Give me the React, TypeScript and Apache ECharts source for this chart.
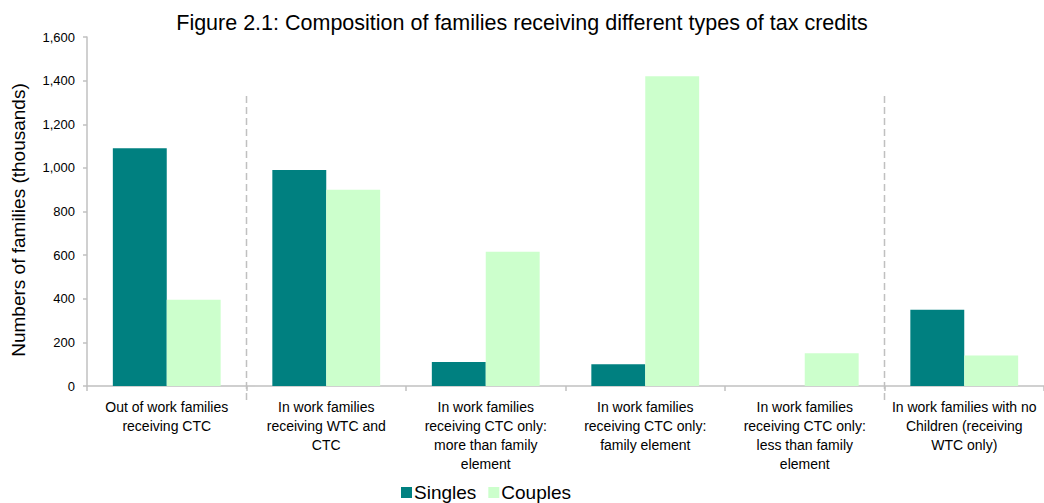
import React, { useEffect, useRef } from "react";
import * as echarts from "echarts";

const categories = [
  "Out of work families\nreceiving CTC",
  "In work families\nreceiving WTC and\nCTC",
  "In work families\nreceiving CTC only:\nmore than family\nelement",
  "In work families\nreceiving CTC only:\nfamily element",
  "In work families\nreceiving CTC only:\nless than family\nelement",
  "In work families with no\nChildren (receiving\nWTC only)",
];
const singles = [1090, 990, 110, 100, -4, 350];
const couples = [395, 900, 615, 1420, 150, 140];
const yMin = 0;
const yMax = 1600;
const yInterval = 200;
// category boundaries (after index) where dashed separators are drawn, with their value span
const separatorAfter = [0, 4];
const separatorTop = 1330;
const separatorBottom = -64;

const FONT = "'Liberation Sans', Arial, sans-serif";

export default function App() {
  const ref = useRef<HTMLDivElement>(null);
  useEffect(() => {
    if (!ref.current) return;
    const chart = echarts.init(ref.current, undefined, { renderer: "svg" });
    chart.setOption({
      animation: false,
      backgroundColor: "#ffffff",
      textStyle: { fontFamily: FONT },
      title: {
        text: "Figure 2.1: Composition of families receiving different types of tax credits",
        left: "center",
        top: 7,
        textStyle: { fontFamily: FONT, fontSize: 21.5, fontWeight: "normal", color: "#000" },
      },
      legend: {
        data: ["Singles", "Couples"],
        left: 401,
        top: 483,
        icon: "rect",
        itemWidth: 11,
        itemHeight: 11,
        itemGap: 12,
        padding: 0,
        textStyle: {
          fontFamily: FONT,
          fontSize: 19,
          color: "#000",
          padding: [0, 0, 0, -3],
        },
      },
      grid: { left: 87, top: 37, width: 958, height: 349 },
      xAxis: {
        type: "category",
        data: categories,
        axisLine: { show: true, lineStyle: { color: "#c0c0c0", width: 1.5 } },
        axisTick: { show: true, length: 5, lineStyle: { color: "#c0c0c0", width: 1.5 } },
        axisLabel: {
          interval: 0,
          margin: 11,
          fontFamily: FONT,
          fontSize: 14,
          lineHeight: 19,
          color: "#000",
          align: "center",
        },
      },
      yAxis: {
        type: "value",
        min: yMin,
        max: yMax,
        interval: yInterval,
        name: "Numbers of families (thousands)",
        nameLocation: "middle",
        nameGap: 59,
        nameTextStyle: { fontFamily: FONT, fontSize: 19, color: "#000", padding: [0, 17, 0, 0] },
        axisLine: { show: true, lineStyle: { color: "#c0c0c0", width: 1.5 } },
        axisTick: { show: true, length: 4, lineStyle: { color: "#c0c0c0", width: 1.5 } },
        splitLine: { show: false },
        axisLabel: {
          margin: 12,
          fontFamily: FONT,
          fontSize: 13,
          color: "#000",
          formatter: (v: number) => v.toLocaleString("en-US"),
        },
      },
      series: [
        {
          name: "Singles",
          type: "bar",
          data: singles,
          barWidth: "33.8%",
          barGap: "0%",
          itemStyle: { color: "#008080" },
        },
        {
          name: "Couples",
          type: "bar",
          data: couples,
          barWidth: "33.8%",
          barGap: "0%",
          itemStyle: { color: "#CCFFCC" },
        },
        {
          name: "separators",
          type: "custom",
          silent: true,
          clip: false,
          data: separatorAfter.map((i) => [i, 0]),
          renderItem: (params: any, api: any) => {
            const idx = api.value(0);
            const a = api.coord([idx, separatorTop]);
            const b = api.coord([idx + 1, separatorTop]);
            const bottom = api.coord([idx, separatorBottom]);
            const x = (a[0] + b[0]) / 2;
            return {
              type: "line",
              shape: { x1: x, y1: a[1], x2: x, y2: bottom[1] },
              style: { stroke: "#c0c0c0", lineWidth: 1.5, lineDash: [7, 4] },
            };
          },
        },
      ],
    });
    return () => chart.dispose();
  }, []);
  return (
    <div
      ref={ref}
      style={{ position: "fixed", left: 0, top: 0, width: 1044, height: 503, background: "#fff" }}
    />
  );
}
